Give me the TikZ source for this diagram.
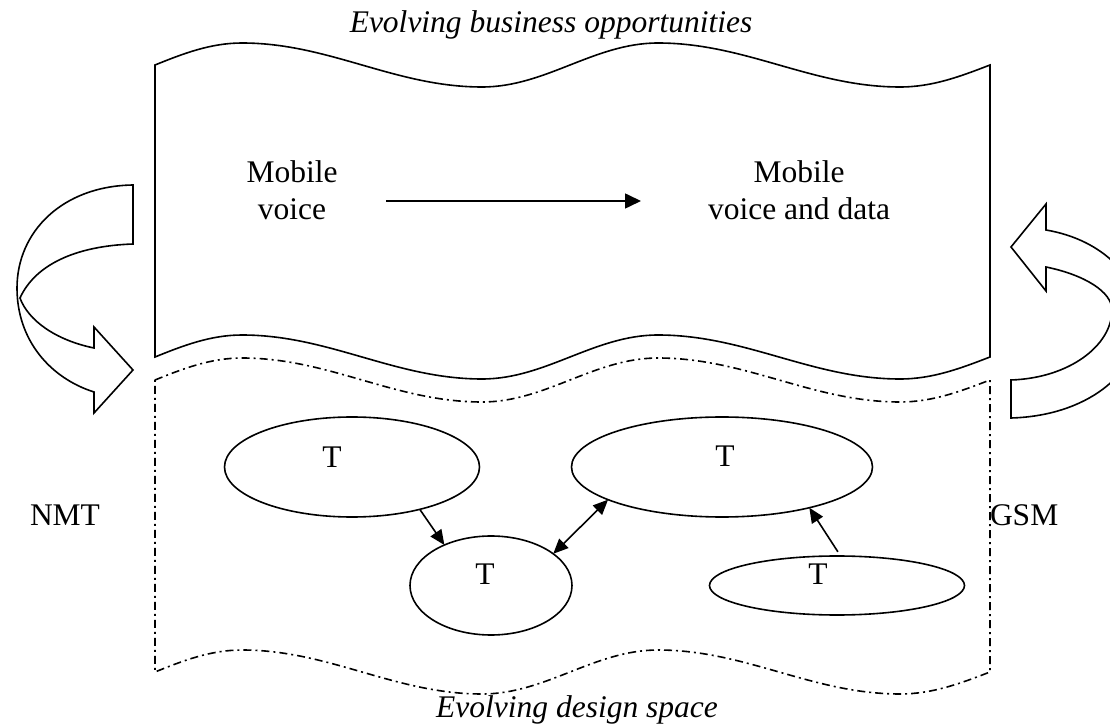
\documentclass[tikz,border=0pt]{standalone}
\usepackage{fontspec}
\setmainfont{Liberation Serif}
\usetikzlibrary{arrows.meta,shapes.geometric}

\tikzset{
  txt/.style={font=\fontsize{15.75}{18.5}\selectfont, inner sep=0pt, outer sep=0pt},
  ttl/.style={font=\fontsize{15.75}{18.5}\selectfont\itshape, inner sep=0pt, outer sep=0pt},
  solidline/.style={line width=0.8pt, line join=miter},
  dashdot box/.style={line width=0.8pt, dash pattern=on 4pt off 2pt on 1pt off 2pt},
  bubble/.style={ellipse, draw, line width=0.8pt, inner sep=0pt, outer sep=0pt},
  link/.style={line width=0.8pt, -{Triangle[length=7.5pt,width=6.5pt]}},
  biglink/.style={line width=0.8pt, {Triangle[length=7.5pt,width=6.5pt]}-{Triangle[length=7.5pt,width=6.5pt]}},
  % double wave edge, left to right, from (155,mid) to (990,mid)
  wave lr/.style={insert path={
    .. controls (183,#1-11.3) and (210.5,#1-22) .. (242,#1-22)
    .. controls (329.1,#1-22) and (394.9,#1+22) .. (482,#1+22)
    .. controls (545.9,#1+22) and (594.1,#1-22) .. (658,#1-22)
    .. controls (745.8,#1-22) and (812.2,#1+22) .. (900,#1+22)
    .. controls (932.6,#1+22) and (960.7,#1+11.3) .. (990,#1)}},
  % the same edge traced right to left
  wave rl/.style={insert path={
    .. controls (960.7,#1+11.3) and (932.6,#1+22) .. (900,#1+22)
    .. controls (812.2,#1+22) and (745.8,#1-22) .. (658,#1-22)
    .. controls (594.1,#1-22) and (545.9,#1+22) .. (482,#1+22)
    .. controls (394.9,#1+22) and (329.1,#1-22) .. (242,#1-22)
    .. controls (210.5,#1-22) and (183,#1-11.3) .. (155,#1)}},
}

\begin{document}
\begin{tikzpicture}[x=0.5pt,y=-0.5pt]
\useasboundingbox (0,0) rectangle (1110,727);
\clip (0,0) rectangle (1110,727);

% business banner (solid) and design space banner (dash-dot)
\draw[solidline] (155,65) [wave lr=65] -- (990,357) [wave rl=357] -- cycle;
\draw[dashdot box] (155,380) [wave lr=380] -- (990,672) [wave rl=672] -- cycle;

% captions
\node[ttl, anchor=base] (toptitle) at (551,33) {Evolving business opportunities};
\node[ttl, anchor=base] (bottitle) at (577,718) {Evolving design space};

% market evolution
\node[txt, anchor=base] (mv) at (292,183) {\begin{tabular}[t]{@{}c@{}}Mobile\\voice\end{tabular}};
\node[txt, anchor=base] (mvd) at (799,183) {\begin{tabular}[t]{@{}c@{}}Mobile\\voice and data\end{tabular}};
\coordinate (evfrom) at (386,201);
\coordinate (evto) at (641,201);
\draw[line width=0.8pt, -{Triangle[length=8pt,width=7.5pt]}] (evfrom) -- (evto);

% side labels
\node[txt, anchor=base] (nmt) at (65,526) {NMT};
\node[txt, anchor=base west] (gsm) at (990,526) {GSM};

% technologies
\node[bubble, minimum width=127.5pt, minimum height=50pt] (e1) at (352,467) {};
\node[bubble, minimum width=81pt, minimum height=49.5pt] (e2) at (491,585.5) {};
\node[bubble, minimum width=150.5pt, minimum height=50pt] (e3) at (722,467) {};
\node[bubble, minimum width=127.5pt, minimum height=29.5pt] (e4) at (837,585.5) {};
\node[txt, anchor=base] (t1) at (332,468) {T};
\node[txt, anchor=base] (t2) at (485,585) {T};
\node[txt, anchor=base] (t3) at (725,467) {T};
\node[txt, anchor=base] (t4) at (818,585) {T};

\draw[link] (e1.-32) -- (e2.139);
\draw[biglink] (e2.27) -- (e3.196);
\draw[link, shorten <=2.5pt] (e4.83) -- (e3.-25);

% left twisted curved arrow
\draw[solidline] (133,185) .. controls (62,186) and (17,232) .. (17,288)
  .. controls (17,340) and (50,378) .. (94,392) -- (94,413) -- (133,370)
  -- (94,327) -- (94,348) .. controls (55,340) and (28,320) .. (20,298)
  .. controls (35,265) and (75,246) .. (133,244) -- cycle;

% right curved arrow
\draw[solidline] (1011,247) -- (1046,204) -- (1046,230)
  .. controls (1105,240) and (1140,280) .. (1140,320)
  .. controls (1140,375) and (1085,416) .. (1011,418) -- (1011,380)
  .. controls (1070,378) and (1112,345) .. (1112,310)
  .. controls (1112,292) and (1085,275) .. (1046,267) -- (1046,291) -- cycle;
\end{tikzpicture}
\end{document}
